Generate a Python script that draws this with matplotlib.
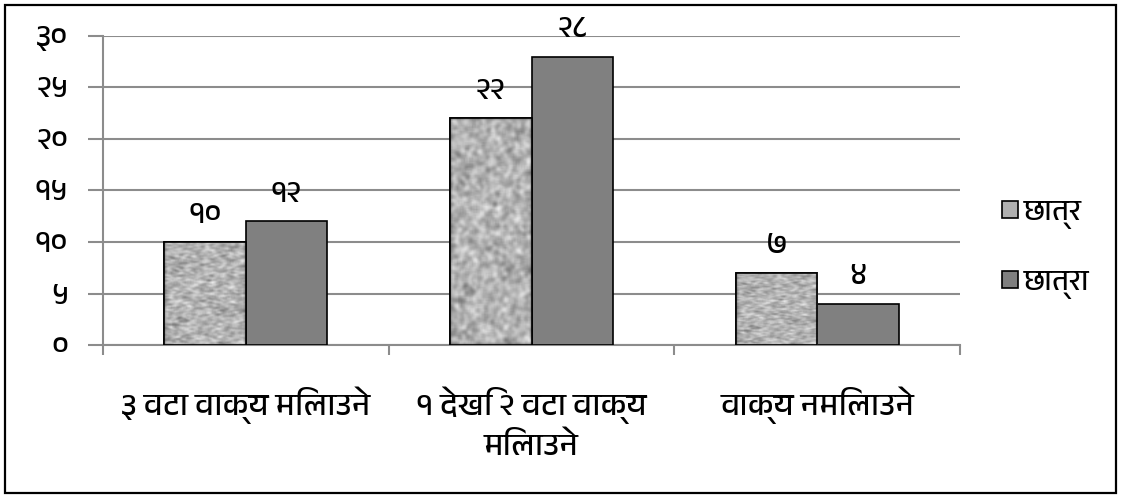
import matplotlib
matplotlib.use('Agg')
import matplotlib.pyplot as plt
from matplotlib import font_manager
from matplotlib.patches import Rectangle
import numpy as np

categories = ['३ वटा वाक्य मिलाउने', '१ देखि २ वटा वाक्य\nमिलाउने', 'वाक्य नमिलाउने']
series_names = ['छात्र', 'छात्रा']
chhatra = [10, 22, 7]
chhatraa = [12, 28, 4]
ytick_values = [0, 5, 10, 15, 20, 25, 30]
ytick_labels = ['०', '५', '१०', '१५', '२०', '२५', '३०']
value_labels_1 = ['१०', '२२', '७']
value_labels_2 = ['१२', '२८', '४']

# pick any installed font that has Devanagari glyphs
deva = []
for f in font_manager.fontManager.ttflist:
    n = f.name
    if 'Devanagari' in n or 'Lohit' in n or 'Mangal' in n or 'Kalimati' in n:
        if n not in deva:
            deva.append(n)
plt.rcParams['font.family'] = deva + ['DejaVu Sans']

fig = plt.figure(figsize=(11.21, 4.98), dpi=100)
fig.patches.append(Rectangle((5 / 1121, 5 / 498), 1111 / 1121, 488 / 498, transform=fig.transFigure,
                             fill=False, edgecolor='black', linewidth=1.6))
ax = fig.add_axes([103 / 1121, 1 - 345 / 498, 857 / 1121, 309 / 498])

x = np.arange(len(categories))
w = 0.285
grid_c = '#8c8c8c'

bars1 = ax.bar(x - w / 2, chhatra, w, color='#b0b0b0', edgecolor='black', linewidth=1.2, zorder=3)
bars2 = ax.bar(x + w / 2, chhatraa, w, color='#808080', edgecolor='black', linewidth=1.2, zorder=3)

# granite-like texture for the first series
rng = np.random.default_rng(3)
tex = rng.random((160, 60))
k = np.ones(3) / 3
for _ in range(2):
    tex = np.apply_along_axis(lambda r: np.convolve(r, k, mode='same'), 0, tex)
    tex = np.apply_along_axis(lambda r: np.convolve(r, k, mode='same'), 1, tex)
tex = (tex - tex.min()) / (tex.max() - tex.min())
for b in bars1:
    bx, by, bw, bh = b.get_x(), b.get_y(), b.get_width(), b.get_height()
    im = ax.imshow(tex, cmap='gray', vmin=-0.7, vmax=1.15, aspect='auto',
                   extent=[bx, bx + bw, by, by + bh], zorder=3.5, interpolation='bilinear')
    im.set_clip_path(b)
    ax.add_patch(Rectangle((bx, by), bw, bh, fill=False, edgecolor='black', linewidth=1.2, zorder=4))

for b, lab in zip(bars1, value_labels_1):
    ax.text(b.get_x() + b.get_width() / 2, b.get_height() + 1.4, lab, ha='center', va='bottom', fontsize=22)
for b, lab in zip(bars2, value_labels_2):
    ax.text(b.get_x() + b.get_width() / 2, b.get_height() + 1.4, lab, ha='center', va='bottom', fontsize=22)

ax.set_xlim(-0.5, len(categories) - 0.5)
ax.set_ylim(0, 30)
ax.set_yticks(ytick_values)
ax.set_yticklabels(ytick_labels, fontsize=22)
ax.yaxis.grid(True, color=grid_c, linewidth=1.5, zorder=0)
ax.set_axisbelow(True)

ax.set_xticks(np.arange(-0.5, len(categories), 1.0))
ax.set_xticklabels([])
ax.set_xticks(x, minor=True)
ax.set_xticklabels(categories, minor=True, fontsize=23, linespacing=1.3)
ax.tick_params(axis='x', which='minor', length=0, pad=30)
ax.tick_params(axis='x', which='major', length=7, color=grid_c, width=1.5)
ax.tick_params(axis='y', length=11, color=grid_c, width=1.5, pad=14)

for s in ['top', 'right']:
    ax.spines[s].set_visible(False)
ax.spines['left'].set_color(grid_c)
ax.spines['left'].set_linewidth(1.5)
ax.spines['bottom'].set_color(grid_c)
ax.spines['bottom'].set_linewidth(1.5)

leg = ax.legend([bars1, bars2], series_names, loc='center left', bbox_to_anchor=(1.018, 0.31),
                frameon=False, fontsize=21, handlelength=0.55, handleheight=0.55, handletextpad=0.2,
                labelspacing=1.4)

fig.savefig('out.png', dpi=100)
